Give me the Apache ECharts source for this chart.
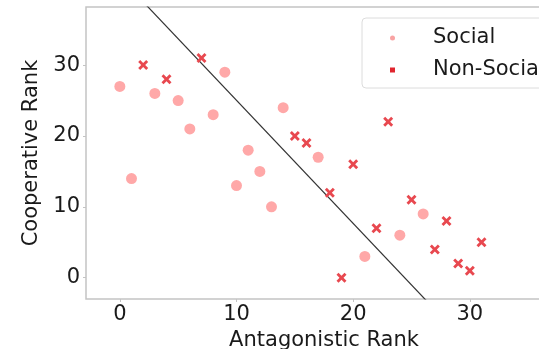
<!DOCTYPE html>
<html>
<head>
<meta charset="utf-8">
<script src="https://cdn.jsdelivr.net/npm/echarts@6/dist/echarts.min.js"></script>
<style>
  html, body { margin: 0; padding: 0; background: #fff; }
  #chart { width: 539px; height: 349px; }
</style>
</head>
<body>
<div id="chart"></div>
<script>
// ranks
const socialX = [0, 1, 3, 5, 6, 8, 9, 10, 11, 12, 13, 14, 17, 21, 24, 26];
const socialY = [27, 14, 26, 25, 21, 23, 29, 13, 18, 15, 10, 24, 17, 3, 6, 9];
const nonSocialX = [2, 4, 7, 15, 16, 18, 19, 20, 22, 23, 25, 27, 28, 29, 30, 31];
const nonSocialY = [30, 28, 31, 20, 19, 12, 0, 16, 7, 22, 11, 4, 8, 2, 1, 5];
// separating line, two end points (clipped by the grid)
const lineX = [0, 30];
const lineY = [42.4, -9.7];
const xTicks = [0, 10, 20, 30];
const yTicks = [0, 10, 20, 30];

const zip = (xs, ys) => xs.map((x, i) => [x, ys[i]]);
const cross = 'path://M0,2 L2,0 L5,3 L8,0 L10,2 L7,5 L10,8 L8,10 L5,7 L2,10 L0,8 L3,5 Z';
const font = 'DejaVu Sans';

const chart = echarts.init(document.getElementById('chart'));
const option = {
    animation: false,
    textStyle: { fontFamily: font },
    grid: {
        left: 86, top: 7, width: 476, height: 292,
        outerBoundsMode: 'none', containLabel: false,
        show: true, borderColor: '#c4c4c4', borderWidth: 1.5
    },
    xAxis: {
        type: 'value', min: -2.9, max: 37.9,
        name: 'Antagonistic Rank', nameLocation: 'middle', nameGap: 26,
        nameTextStyle: { fontSize: 21, color: '#1a1a1a', fontFamily: font },
        axisLine: { show: false, onZero: false },
        splitLine: { show: false },
        axisTick: { show: true, length: 3, lineStyle: { color: '#c4c4c4', width: 1 }, customValues: xTicks },
        axisLabel: { fontSize: 21, color: '#1a1a1a', margin: 5, fontFamily: font, customValues: xTicks }
    },
    yAxis: {
        type: 'value', min: -3, max: 38.2,
        name: 'Cooperative Rank', nameLocation: 'middle', nameGap: 35,
        nameTextStyle: { fontSize: 21, color: '#1a1a1a', fontFamily: font },
        axisLine: { show: false, onZero: false },
        splitLine: { show: false },
        axisTick: { show: true, length: 3, lineStyle: { color: '#c4c4c4', width: 1 }, customValues: yTicks },
        axisLabel: { fontSize: 21, color: '#1a1a1a', margin: 6, fontFamily: font, customValues: yTicks }
    },
    legend: {
        orient: 'vertical', left: 362, top: 18,
        backgroundColor: '#fff',
        borderColor: '#dcdcdc', borderWidth: 1, borderRadius: 4,
        padding: [8, 40, 6, 28],
        itemWidth: 5, itemHeight: 5, itemGap: 8,
        textStyle: { fontSize: 21, color: '#1a1a1a', lineHeight: 24, padding: [0, 0, 0, 33], fontFamily: font },
        data: [
            { name: 'Social', icon: 'circle', itemStyle: { color: '#f9a3a3' } },
            { name: 'Non-Social', icon: 'rect', itemStyle: { color: '#e0252e' } }
        ]
    },
    series: [
        {
            type: 'line', data: zip(lineX, lineY), showSymbol: false, silent: true, clip: true,
            lineStyle: { color: '#333', width: 1.2 }, z: 1
        },
        {
            name: 'Social', type: 'scatter', data: zip(socialX, socialY),
            symbol: 'circle', symbolSize: 11,
            itemStyle: { color: '#ffa8a8', opacity: 1 }, z: 2
        },
        {
            name: 'Non-Social', type: 'scatter', data: zip(nonSocialX, nonSocialY),
            symbol: cross, symbolSize: 10,
            itemStyle: { color: '#e8484f', opacity: 1 }, z: 3
        }
    ]
};
option && chart.setOption(option);
</script>
</body>
</html>
